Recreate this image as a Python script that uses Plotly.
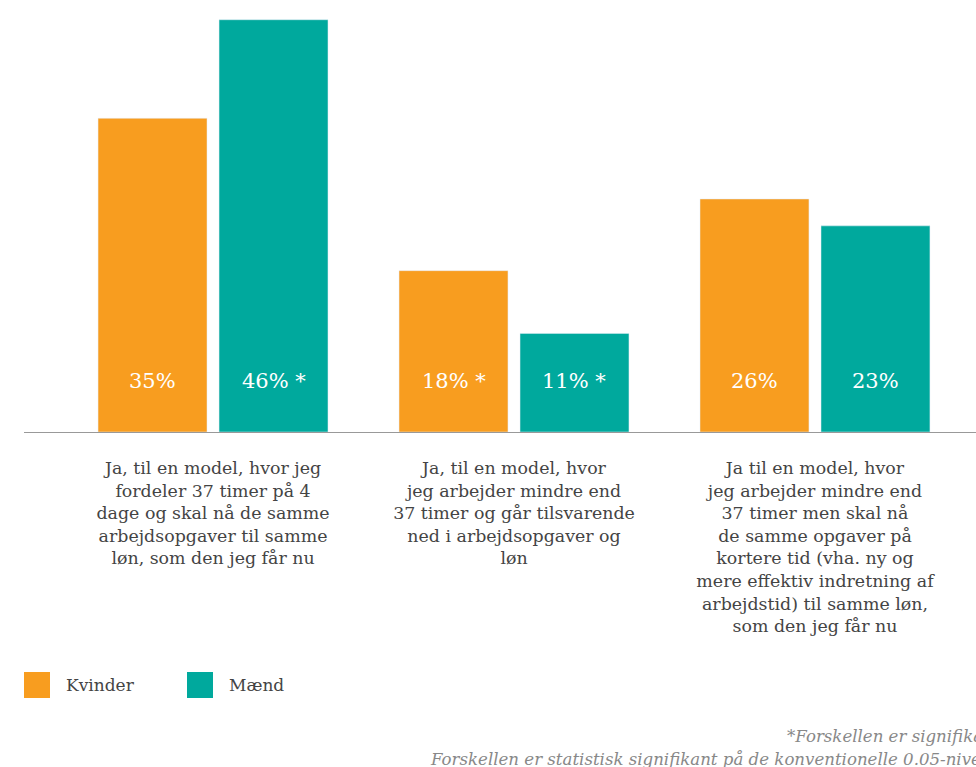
import plotly.graph_objects as go

categories = [
    "Ja, til en model, hvor jeg<br>fordeler 37 timer på 4<br>dage og skal nå de samme<br>arbejdsopgaver til samme<br>løn, som den jeg får nu",
    "Ja, til en model, hvor<br>jeg arbejder mindre end<br>37 timer og går tilsvarende<br>ned i arbejdsopgaver og<br>løn",
    "Ja til en model, hvor<br>jeg arbejder mindre end<br>37 timer men skal nå<br>de samme opgaver på<br>kortere tid (vha. ny og<br>mere effektiv indretning af<br>arbejdstid) til samme løn,<br>som den jeg får nu",
]
series_names = ["Kvinder", "Mænd"]
kvinder = [35, 18, 26]
maend = [46, 11, 23]
kvinder_sig = ["", " *", ""]
maend_sig = [" *", " *", ""]

colors = ["#F89D1F", "#00A99D"]
FONT = "DejaVu Serif"
W, H = 976, 767
bar_w = 0.362
offsets = [-0.382, 0.020]

fig = go.Figure()
values = [kvinder, maend]
sigs = [kvinder_sig, maend_sig]
xs = list(range(len(categories)))
for name, vals, col, off in zip(series_names, values, colors, offsets):
    fig.add_trace(go.Bar(
        x=xs, y=vals, name=name, marker_color=col, width=bar_w, offset=off,
        showlegend=False, hoverinfo="skip",
    ))

annotations = []
for vals, sg, off in zip(values, sigs, offsets):
    for i, (v, s) in enumerate(zip(vals, sg)):
        annotations.append(dict(
            x=i + off + bar_w / 2, y=0, xref="x", yref="y", yshift=51,
            text=f"{v}%{s}", showarrow=False, yanchor="middle",
            font=dict(family=FONT, size=21, color="white"),
        ))

# legend
leg_x = [24, 187]
for name, col, lx in zip(series_names, colors, leg_x):
    fig.add_shape(type="rect", xref="paper", yref="paper",
                  x0=(lx - 24) / (W - 24), x1=(lx + 26 - 24) / (W - 24),
                  y0=-(672 - 432) / 432, y1=-(698 - 432) / 432,
                  fillcolor=col, line_width=0)
    annotations.append(dict(
        xref="paper", yref="paper", x=(lx + 40 - 24) / (W - 24), y=-(685 - 432) / 432,
        text=name, showarrow=False, xanchor="left", yanchor="middle",
        font=dict(family=FONT, size=17, color="#444444"),
    ))

footnotes = ["*Forskellen er signifikant",
             "Forskellen er statistisk signifikant på de konventionelle 0.05-niveau"]
for k, t in enumerate(footnotes):
    annotations.append(dict(
        xref="paper", yref="paper", x=(1003 - 24) / (W - 24), y=-(736 + 23 * k - 432) / 432,
        text=f"<i>{t}</i>", showarrow=False, xanchor="right", yanchor="middle",
        font=dict(family=FONT, size=16.6, color="#888888"),
    ))

fig.update_layout(
    width=W, height=H, margin=dict(l=24, r=0, t=0, b=H - 432),
    plot_bgcolor="white", paper_bgcolor="white",
    annotations=annotations,
    font=dict(family=FONT, color="#444444"),
)
fig.update_xaxes(
    range=[-0.628, 2.535], tickvals=xs, ticktext=categories,
    showline=True, linecolor="#999999", linewidth=1, showgrid=False, zeroline=False,
    ticks="outside", ticklen=20, tickcolor="rgba(0,0,0,0)",
    tickfont=dict(family=FONT, size=17.4, color="#444444"), tickangle=0,
)
fig.update_yaxes(range=[0, 48.2], visible=False, showgrid=False, zeroline=False)

fig.write_html("out.html", config={"displayModeBar": False},
               post_script="document.body.style.margin='0';")
